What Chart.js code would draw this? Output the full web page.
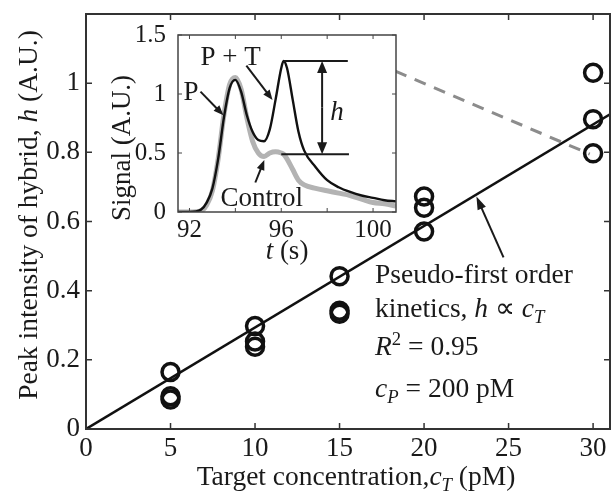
<!DOCTYPE html>
<html>
<head>
<meta charset="utf-8">
<script src="https://cdn.jsdelivr.net/npm/chart.js@4"></script>
<style>
  body { margin: 0; background: #fff; }
  #wrap { position: relative; width: 612px; height: 492px; }
  #mainChart { position: absolute; left: 0; top: 0; }
  #insetChart { position: absolute; left: 100px; top: 20px; }
</style>
</head>
<body>
<div id="wrap">
  <canvas id="mainChart" width="612" height="492"></canvas>
  <canvas id="insetChart" width="300" height="245"></canvas>
</div>
<script>
// Main plot: peak height vs target concentration
const concX = [5, 5, 5, 10, 10, 10, 15, 15, 15, 20, 20, 20, 30, 30, 30];
const hVals = [0.165, 0.095, 0.085, 0.298, 0.253, 0.238, 0.442, 0.342, 0.333, 0.672, 0.64, 0.571, 1.03, 0.896, 0.797];
const fitX = [0, 31];
const fitY = [0, 0.91];
const guideX = [18.3, 29.8];
const guideY = [1.035, 0.795];
const xTicks = [0, 5, 10, 15, 20, 25, 30];
const xTickLabels = ['0', '5', '10', '15', '20', '25', '30'];
const yTicks = [0, 0.2, 0.4, 0.6, 0.8, 1];
const yTickLabels = ['0', '0.2', '0.4', '0.6', '0.8', '1'];

// Inset: electropherograms
const sigT    = [91.5, 92, 92.5, 92.75, 93, 93.25, 93.5, 93.75, 94, 94.25, 94.5, 94.75, 95, 95.25, 95.5, 95.75, 96, 96.1, 96.25, 96.5, 96.75, 97, 97.5, 98, 98.5, 99, 99.5, 100, 100.5, 101];
const sigPT   = [0, 0, 0.02, 0.08, 0.2, 0.45, 0.8, 1.05, 1.12, 1.02, 0.82, 0.68, 0.61, 0.6, 0.7, 0.95, 1.22, 1.28, 1.22, 0.95, 0.68, 0.52, 0.38, 0.27, 0.21, 0.17, 0.14, 0.12, 0.1, 0.09];
const sigCtrl = [0, 0, 0.01, 0.06, 0.18, 0.45, 0.82, 1.08, 1.14, 1.04, 0.8, 0.6, 0.5, 0.47, 0.5, 0.51, 0.5, 0.49, 0.45, 0.36, 0.27, 0.23, 0.2, 0.18, 0.16, 0.14, 0.11, 0.08, 0.07, 0.05];
const insetXTicks = [92, 94, 96, 98, 100];
const insetXLabels = ['92', '', '96', '', '100'];
const insetYTicks = [0, 0.5, 1, 1.5];
const insetYLabels = ['0', '0.5', '1', '1.5'];

const SERIF = '"Liberation Serif", "Times New Roman", serif';
const INK = '#1a1a1a';

function setFont(ctx, run, size) {
    const s = (run.sub || run.sup) ? size * 0.68 : size;
    ctx.font = (run.i ? 'italic ' : '') + s + 'px ' + SERIF;
}

function richWidth(ctx, runs, size) {
    let w = 0;
    runs.forEach(r => { setFont(ctx, r, size); w += ctx.measureText(r.t).width; });
    return w;
}

function drawRich(ctx, runs, x, y, size, align) {
    ctx.save();
    ctx.fillStyle = INK;
    ctx.textBaseline = 'alphabetic';
    ctx.textAlign = 'left';
    let cx = align === 'center' ? x - richWidth(ctx, runs, size) / 2 : x;
    runs.forEach(r => {
        setFont(ctx, r, size);
        const dy = r.sub ? size * 0.22 : (r.sup ? -size * 0.38 : 0);
        ctx.fillText(r.t, cx, y + dy);
        cx += ctx.measureText(r.t).width;
    });
    ctx.restore();
}

function drawRotated(ctx, runs, cx, cy, size) {
    ctx.save();
    ctx.translate(cx, cy);
    ctx.rotate(-Math.PI / 2);
    drawRich(ctx, runs, 0, 0, size, 'center');
    ctx.restore();
}

function drawArrow(ctx, x1, y1, x2, y2, len, half, width) {
    const ang = Math.atan2(y2 - y1, x2 - x1);
    ctx.save();
    ctx.strokeStyle = INK;
    ctx.fillStyle = INK;
    ctx.lineWidth = width;
    ctx.beginPath();
    ctx.moveTo(x1, y1);
    ctx.lineTo(x2 - Math.cos(ang) * len * 0.7, y2 - Math.sin(ang) * len * 0.7);
    ctx.stroke();
    ctx.beginPath();
    ctx.moveTo(x2, y2);
    ctx.lineTo(x2 - Math.cos(ang) * len - Math.sin(ang) * half, y2 - Math.sin(ang) * len + Math.cos(ang) * half);
    ctx.lineTo(x2 - Math.cos(ang) * len + Math.sin(ang) * half, y2 - Math.sin(ang) * len - Math.cos(ang) * half);
    ctx.closePath();
    ctx.fill();
    ctx.restore();
}

// box, inward tick marks on all sides, tick labels bottom/left
function drawFrame(chart, len, width, color, fontSize, xLabels, yLabels, xPad, yPad) {
    const { ctx, chartArea: a, scales: { x, y } } = chart;
    ctx.save();
    ctx.strokeStyle = color;
    ctx.lineWidth = width;
    ctx.strokeRect(a.left, a.top, a.right - a.left, a.bottom - a.top);
    ctx.lineWidth = Math.max(1, width - 0.5);
    ctx.beginPath();
    x.ticks.forEach(t => {
        const p = x.getPixelForValue(t.value);
        ctx.moveTo(p, a.bottom); ctx.lineTo(p, a.bottom - len);
        ctx.moveTo(p, a.top); ctx.lineTo(p, a.top + len);
    });
    y.ticks.forEach(t => {
        const p = y.getPixelForValue(t.value);
        ctx.moveTo(a.left, p); ctx.lineTo(a.left + len, p);
        ctx.moveTo(a.right, p); ctx.lineTo(a.right - len, p);
    });
    ctx.stroke();

    ctx.fillStyle = INK;
    ctx.font = fontSize + 'px ' + SERIF;
    ctx.textAlign = 'center';
    ctx.textBaseline = 'top';
    x.ticks.forEach((t, i) => ctx.fillText(xLabels[i], x.getPixelForValue(t.value), a.bottom + xPad));
    ctx.textAlign = 'right';
    ctx.textBaseline = 'middle';
    y.ticks.forEach((t, i) => ctx.fillText(yLabels[i], a.left - yPad, y.getPixelForValue(t.value)));
    ctx.restore();
}

// Main chart
const mainDecor = {
    id: 'mainDecor',
    afterDraw(chart) {
        const { ctx, scales: { x, y } } = chart;
        drawFrame(chart, 6, 2, '#333', 27, xTickLabels, yTickLabels, 6, 6);

        // arrow pointing to the fit line
        drawArrow(ctx, x.getPixelForValue(24.7), y.getPixelForValue(0.496),
                  x.getPixelForValue(23.1), y.getPixelForValue(0.672), 13, 4.5, 2);

        const left = x.getPixelForValue(17.1);
        drawRich(ctx, [{ t: 'Pseudo-first order' }], left, y.getPixelForValue(0.423), 27.5);
        drawRich(ctx, [{ t: 'kinetics, ' }, { t: 'h', i: true }, { t: ' \u221D ' }, { t: 'c', i: true }, { t: 'T', i: true, sub: true }],
                 left, y.getPixelForValue(0.325), 27.5);
        drawRich(ctx, [{ t: 'R', i: true }, { t: '2', sup: true }, { t: ' = 0.95' }], left, y.getPixelForValue(0.214), 27.5);
        drawRich(ctx, [{ t: 'c', i: true }, { t: 'P', i: true, sub: true }, { t: ' = 200 pM' }], left, y.getPixelForValue(0.093), 27.5);

        // axis titles
        drawRich(ctx, [{ t: 'Target concentration,' }, { t: 'c', i: true }, { t: 'T', i: true, sub: true }, { t: ' (pM)' }],
                 356, 485, 27.5, 'center');
        drawRotated(ctx, [{ t: 'Peak intensity of hybrid, ' }, { t: 'h', i: true }, { t: ' (A.U.)' }], 37, 215, 27.5);
    }
};

new Chart(document.getElementById('mainChart'), {
    type: 'scatter',
    data: {
        datasets: [
            {
                data: concX.map((c, i) => ({ x: c, y: hVals[i] })),
                pointRadius: 8.5,
                pointHoverRadius: 8.5,
                pointBorderWidth: 3.5,
                pointBackgroundColor: 'rgba(0,0,0,0)',
                pointBorderColor: '#111',
                showLine: false,
                clip: false,
                order: 0
            },
            {
                data: fitX.map((v, i) => ({ x: v, y: fitY[i] })),
                showLine: true,
                borderColor: '#111',
                borderWidth: 2.5,
                pointRadius: 0,
                order: 1
            },
            {
                data: guideX.map((v, i) => ({ x: v, y: guideY[i] })),
                showLine: true,
                borderColor: '#8c8c8c',
                borderWidth: 3,
                borderDash: [12, 9],
                pointRadius: 0,
                order: 2
            }
        ]
    },
    options: {
        responsive: false,
        animation: false,
        devicePixelRatio: 1,
        layout: { autoPadding: false, padding: { left: 0, right: 2, top: 14, bottom: 0 } },
        plugins: { legend: { display: false }, tooltip: { enabled: false } },
        scales: {
            x: {
                type: 'linear',
                min: 0,
                max: 31,
                afterBuildTicks: s => { s.ticks = xTicks.map(v => ({ value: v })); },
                afterFit: s => { s.height = 63; },
                grid: { display: false, drawTicks: false },
                border: { display: false },
                ticks: { display: false }
            },
            y: {
                type: 'linear',
                min: 0,
                max: 1.2,
                afterBuildTicks: s => { s.ticks = yTicks.map(v => ({ value: v })); },
                afterFit: s => { s.width = 86; },
                grid: { display: false, drawTicks: false },
                border: { display: false },
                ticks: { display: false }
            }
        }
    },
    plugins: [mainDecor]
});

// Inset chart
const insetDecor = {
    id: 'insetDecor',
    beforeDraw(chart) {
        const { ctx, chartArea: a } = chart;
        ctx.save();
        ctx.fillStyle = '#fff';
        ctx.fillRect(a.left, a.top, a.right - a.left, a.bottom - a.top);
        ctx.restore();
    },
    afterDraw(chart) {
        const { ctx, scales: { x, y } } = chart;
        drawFrame(chart, 4, 1.5, '#444', 25, insetXLabels, insetYLabels, 6, 12);

        // h marker lines
        ctx.save();
        ctx.strokeStyle = INK;
        ctx.lineWidth = 2;
        ctx.beginPath();
        ctx.moveTo(x.getPixelForValue(96.1), y.getPixelForValue(1.28));
        ctx.lineTo(x.getPixelForValue(98.9), y.getPixelForValue(1.28));
        ctx.moveTo(x.getPixelForValue(96.0), y.getPixelForValue(0.49));
        ctx.lineTo(x.getPixelForValue(98.95), y.getPixelForValue(0.49));
        ctx.stroke();
        ctx.restore();
        const hx = x.getPixelForValue(97.78);
        const mid = (y.getPixelForValue(1.28) + y.getPixelForValue(0.49)) / 2;
        drawArrow(ctx, hx, mid, hx, y.getPixelForValue(1.28), 12, 5, 2);
        drawArrow(ctx, hx, mid, hx, y.getPixelForValue(0.49), 12, 5, 2);

        // label arrows
        drawArrow(ctx, x.getPixelForValue(92.48), y.getPixelForValue(1.02), x.getPixelForValue(93.48), y.getPixelForValue(0.82), 10, 4, 2);
        drawArrow(ctx, x.getPixelForValue(94.48), y.getPixelForValue(1.24), x.getPixelForValue(95.62), y.getPixelForValue(0.95), 10, 4, 2);
        drawArrow(ctx, x.getPixelForValue(94.87), y.getPixelForValue(0.25), x.getPixelForValue(95.26), y.getPixelForValue(0.44), 10, 4, 2);

        drawRich(ctx, [{ t: 'P + T' }], x.getPixelForValue(92.48), y.getPixelForValue(1.25), 27);
        drawRich(ctx, [{ t: 'P' }], x.getPixelForValue(91.74), y.getPixelForValue(0.95), 27);
        drawRich(ctx, [{ t: 'Control' }], x.getPixelForValue(93.35), y.getPixelForValue(0.05), 27);
        drawRich(ctx, [{ t: 'h', i: true }], x.getPixelForValue(98.13), y.getPixelForValue(0.78), 27);

        // axis titles
        drawRich(ctx, [{ t: 't', i: true }, { t: ' (s)' }], 187, 239, 27, 'center');
        drawRotated(ctx, [{ t: 'Signal (A.U.)' }], 30, 128, 27);
    }
};

new Chart(document.getElementById('insetChart'), {
    type: 'line',
    data: {
        datasets: [
            {
                data: sigT.map((t, i) => ({ x: t, y: sigPT[i] })),
                borderColor: '#111',
                borderWidth: 2.4,
                pointRadius: 0,
                cubicInterpolationMode: 'monotone',
                order: 0
            },
            {
                data: sigT.map((t, i) => ({ x: t, y: sigCtrl[i] })),
                borderColor: '#b3b3b3',
                borderWidth: 5,
                pointRadius: 0,
                cubicInterpolationMode: 'monotone',
                order: 1
            }
        ]
    },
    options: {
        responsive: false,
        animation: false,
        devicePixelRatio: 1,
        layout: { autoPadding: false, padding: { left: 0, right: 4, top: 15, bottom: 0 } },
        plugins: { legend: { display: false }, tooltip: { enabled: false } },
        scales: {
            x: {
                type: 'linear',
                min: 91.5,
                max: 101,
                afterBuildTicks: s => { s.ticks = insetXTicks.map(v => ({ value: v })); },
                afterFit: s => { s.height = 53; },
                grid: { display: false, drawTicks: false },
                border: { display: false },
                ticks: { display: false }
            },
            y: {
                type: 'linear',
                min: 0,
                max: 1.5,
                afterBuildTicks: s => { s.ticks = insetYTicks.map(v => ({ value: v })); },
                afterFit: s => { s.width = 78; },
                grid: { display: false, drawTicks: false },
                border: { display: false },
                ticks: { display: false }
            }
        }
    },
    plugins: [insetDecor]
});
</script>
</body>
</html>
